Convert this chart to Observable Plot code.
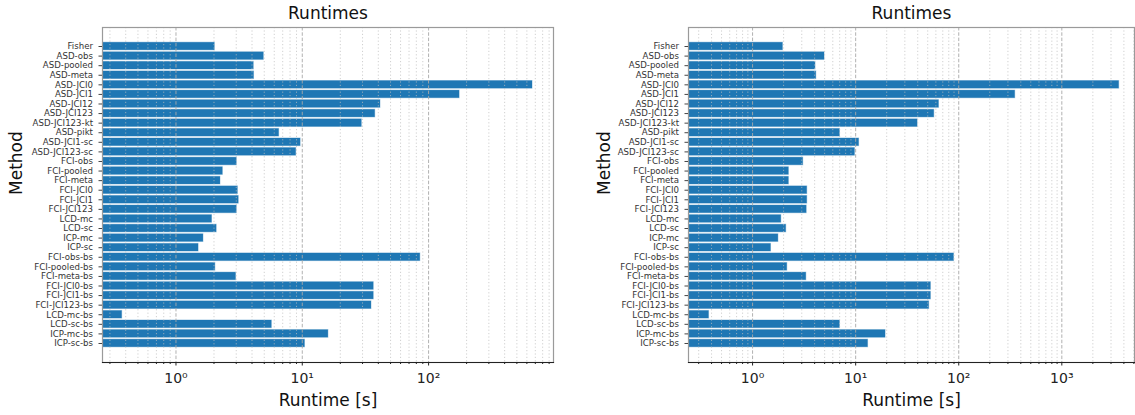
<!DOCTYPE html>
<html>
<head>
<meta charset="utf-8">
<script src="https://cdn.jsdelivr.net/npm/d3@7"></script>
<script src="https://cdn.jsdelivr.net/npm/@observablehq/plot@0.6"></script>
<style>
  html, body { margin: 0; padding: 0; background: #fff; }
  #wrap { display: flex; width: 1135px; height: 415px; overflow: hidden; }
  svg { display: block; }
</style>
</head>
<body>
<div id="wrap"></div>
<script>
const methods = [
  "Fisher", "ASD-obs", "ASD-pooled", "ASD-meta", "ASD-JCI0", "ASD-JCI1", "ASD-JCI12",
  "ASD-JCI123", "ASD-JCI123-kt", "ASD-pikt", "ASD-JCI1-sc", "ASD-JCI123-sc",
  "FCI-obs", "FCI-pooled", "FCI-meta", "FCI-JCI0", "FCI-JCI1", "FCI-JCI123",
  "LCD-mc", "LCD-sc", "ICP-mc", "ICP-sc",
  "FCI-obs-bs", "FCI-pooled-bs", "FCI-meta-bs", "FCI-JCI0-bs", "FCI-JCI1-bs",
  "FCI-JCI123-bs", "LCD-mc-bs", "LCD-sc-bs", "ICP-mc-bs", "ICP-sc-bs"
];

// Runtimes in seconds, left panel
const runtimeLeft = [
  2.03, 4.96, 4.13, 4.15, 665, 176, 41.6,
  37.8, 29.6, 6.56, 9.7, 8.95,
  3.03, 2.35, 2.25, 3.09, 3.14, 3.03,
  1.93, 2.10, 1.65, 1.51,
  86, 2.05, 2.99, 36.8, 36.8,
  35.3, 0.375, 5.74, 16.1, 10.5
];

// Runtimes in seconds, right panel
const runtimeRight = [
  1.97, 4.99, 4.08, 4.15, 3600, 353, 64.3,
  57.9, 39.9, 7.04, 10.8, 9.84,
  3.10, 2.25, 2.25, 3.39, 3.39, 3.35,
  1.90, 2.12, 1.78, 1.51,
  90, 2.17, 3.32, 53.7, 53.7,
  51.7, 0.378, 7.04, 19.5, 13.2
];

const domainLeft = [0.262, 975];
const domainRight = [0.239, 5070];
const majorLeft = [1, 10, 100];
const majorRight = [1, 10, 100, 1000];
const decades = [0.1, 1, 10, 100, 1000];
const minorMultipliers = [2, 3, 4, 5, 6, 7, 8, 9];

const supDigits = {"0": "⁰", "1": "¹", "2": "²", "3": "³", "-": "⁻"};
const supFormat = v => "10" + String(Math.round(Math.log10(v))).split("").map(c => supDigits[c]).join("");

function minorTicks(domain) {
  const out = [];
  for (const d of decades) for (const k of minorMultipliers) {
    const v = +(d * k).toPrecision(3);
    if (v >= domain[0] && v <= domain[1]) out.push(v);
  }
  return out;
}

function panel(values, domain, majors, width, marginLeft, marginRight, methodDx) {
  const data = methods.map((m, i) => ({method: m, runtime: values[i]}));
  const minors = minorTicks(domain);
  return Plot.plot({
    width, height: 415,
    marginTop: 27, marginBottom: 53, marginLeft, marginRight,
    style: {fontFamily: "DejaVu Sans", background: "white", color: "#222", overflow: "visible"},
    x: {type: "log", domain},
    y: {type: "band", domain: methods, paddingInner: 0.2, paddingOuter: 1.585, round: false},
    marks: [
      Plot.barX(data, {x1: domain[0] / 10, x2: "runtime", y: "method", fill: "#1f77b4",
        stroke: "#1f77b4", strokeOpacity: 0.35, strokeWidth: 1, clip: true}),
      Plot.ruleX(minors, {stroke: "#bdbdbd", strokeDasharray: "1.2,2.2", strokeWidth: 0.8, strokeOpacity: 0.9}),
      Plot.ruleX(majors, {stroke: "#a8a8a8", strokeDasharray: "3.5,1.8", strokeWidth: 0.9}),
      Plot.frame({stroke: "#9a9a9a", strokeWidth: 1.2}),
      Plot.frame({anchor: "bottom", stroke: "#222", strokeWidth: 1.1}),
      Plot.axisY({tickSize: 3.5, tickPadding: 6, fontSize: 8.6, label: null, stroke: "#444", color: "#333"}),
      Plot.axisX({ticks: majors, tickFormat: supFormat, tickSize: 3.5, tickPadding: 7.5, fontSize: 14, label: null, stroke: "#222"}),
      Plot.axisX({ticks: minors, tickFormat: () => "", tickSize: 2, label: null, stroke: "#222"}),
      Plot.text(["Runtimes"], {frameAnchor: "top", lineAnchor: "middle", dy: -14, fontSize: 17, fill: "#111"}),
      Plot.text(["Runtime [s]"], {frameAnchor: "bottom", lineAnchor: "middle", dy: 38, fontSize: 17, fill: "#111"}),
      Plot.text(["Method"], {frameAnchor: "left", lineAnchor: "middle", dx: methodDx, rotate: -90, fontSize: 17, fill: "#111"})
    ]
  });
}

const wrap = document.getElementById("wrap");
wrap.append(panel(runtimeLeft, domainLeft, majorLeft, 567, 102, 14, -86));
wrap.append(panel(runtimeRight, domainRight, majorRight, 568, 121, 1, -84));
</script>
</body>
</html>
